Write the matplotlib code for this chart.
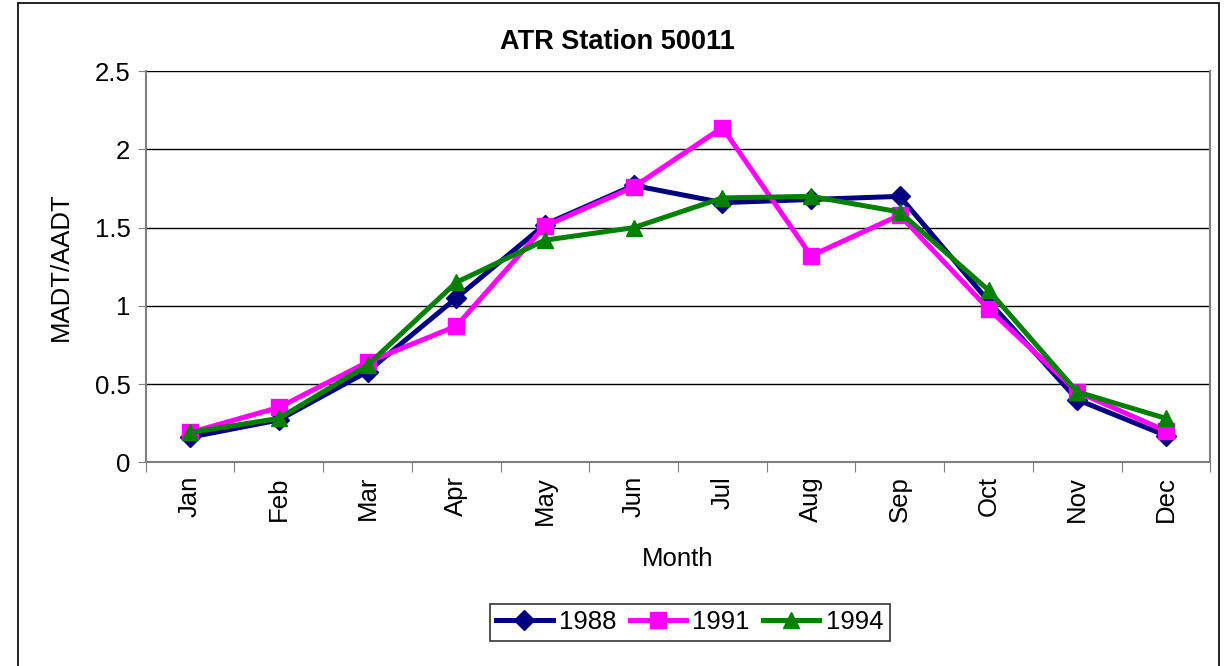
import matplotlib.pyplot as plt
from matplotlib.patches import Rectangle

months = ["Jan", "Feb", "Mar", "Apr", "May", "Jun", "Jul", "Aug", "Sep", "Oct", "Nov", "Dec"]
y1988 = [0.16, 0.27, 0.58, 1.05, 1.52, 1.77, 1.66, 1.68, 1.70, 1.03, 0.40, 0.17]
y1991 = [0.19, 0.35, 0.64, 0.87, 1.51, 1.76, 2.14, 1.32, 1.58, 0.98, 0.45, 0.20]
y1994 = [0.19, 0.28, 0.62, 1.15, 1.42, 1.50, 1.69, 1.70, 1.60, 1.10, 0.45, 0.28]

plt.rcParams['font.family'] = ['Liberation Sans', 'DejaVu Sans']

fig = plt.figure(figsize=(12.25, 6.66), dpi=100)
ax = fig.add_axes([0.119, 0.306, 0.869, 0.587])

x = range(len(months))
ax.plot(x, y1988, color="#000080", marker="D", markersize=10, lw=3.6, label="1988")
ax.plot(x, y1991, color="#ff00ff", marker="s", markersize=12, lw=3.6, label="1991")
ax.plot(x, y1994, color="#008000", marker="^", markersize=12, lw=3.6, label="1994")

ax.set_xlim(-0.5, 11.5)
ax.set_ylim(0, 2.5)
ax.set_yticks([0, 0.5, 1, 1.5, 2, 2.5])
ax.set_yticklabels(["0", "0.5", "1", "1.5", "2", "2.5"])
ax.set_xticks([i + 0.5 for i in range(-1, 12)], minor=False)
ax.set_xticklabels([])
ax.set_xticks(list(x), minor=True)
ax.set_xticklabels(months, minor=True, rotation=90)
ax.tick_params(axis="x", which="minor", length=0, pad=10, labelsize=18.5)
ax.tick_params(axis="x", which="major", length=7, direction="out", color="#808080")
ax.tick_params(axis="y", labelsize=18.5, length=6, direction="out", color="#808080", pad=5)
ax.yaxis.grid(True, color="black", lw=1)
ax.set_axisbelow(True)
for s in ax.spines.values():
    s.set_color("#808080")
    s.set_linewidth(1.5)
ax.spines["top"].set_visible(False)

fig.text(0.504, 0.937, "ATR Station 50011", fontsize=19.5, fontweight="bold",
         ha="center", va="center")
ax.set_xlabel("Month", fontsize=18.5, labelpad=16)
ax.set_ylabel("MADT/AADT", fontsize=18.5, labelpad=16)

leg = ax.legend(loc="center", bbox_to_anchor=(0.511, -0.41), ncol=3, fontsize=18.5,
                frameon=True, fancybox=False, edgecolor="black",
                handlelength=2.2, columnspacing=0.5, handletextpad=0.25,
                borderpad=0.25)
leg.get_frame().set_linewidth(1.2)

fig.patches.append(Rectangle((0.015, -0.01), 0.98, 1.005, transform=fig.transFigure,
                             fill=False, edgecolor="black", lw=1.2))

fig.savefig("out.png", dpi=100)
